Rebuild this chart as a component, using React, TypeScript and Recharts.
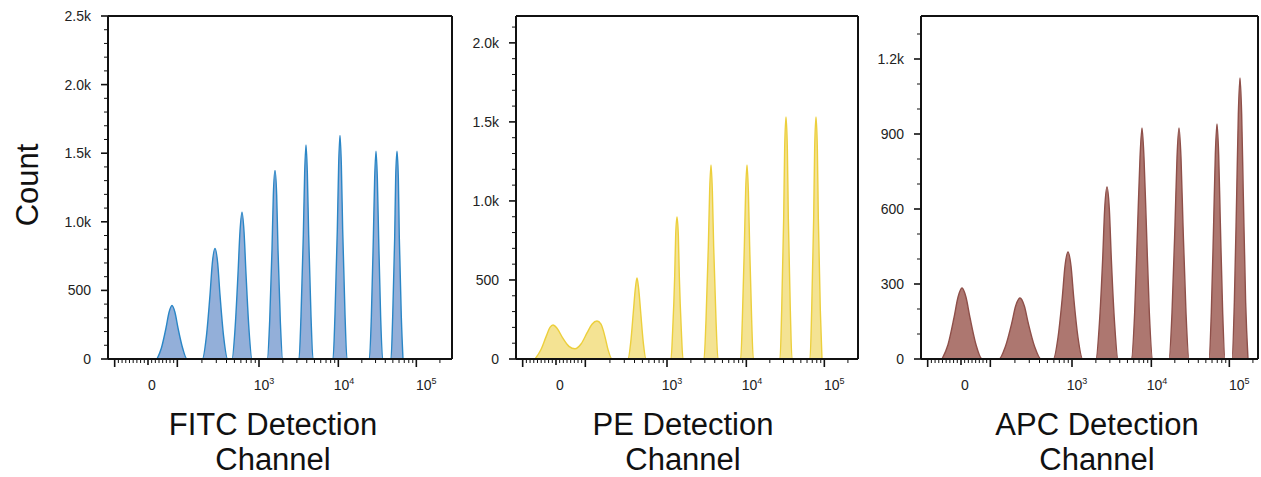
import React from 'react';
import { AreaChart, Area, XAxis, YAxis, ReferenceLine } from 'recharts';

const FONT = '"Liberation Sans", Arial, Helvetica, sans-serif';

// x axis is in display channels (biexponential), 3 channels per pixel
const xDecadeTicks = [20, 120, 208, 453, 691, 925]; // -10², 0, 10², 10³, 10⁴, 10⁵
const xLabelPos = [132, 468, 708, 955];
const xLabelBase = ['0', '10', '10', '10'];
const xLabelExp = ['', '3', '4', '5'];

// FITC
const fitcChannel = [
  147, 160, 174, 183, 192, 201, 210, 224, 237,
  283, 295, 306, 313, 321, 329, 336, 347, 359,
  372, 381, 390, 396, 402, 408, 414, 423, 432,
  478, 485, 492, 496, 501, 506, 510, 517, 524,
  573, 579, 586, 590, 594, 598, 602, 609, 615,
  675, 681, 688, 692, 696, 700, 704, 711, 717,
  784, 790, 796, 800, 804, 808, 812, 818, 824,
  849, 854, 860, 863, 867, 871, 874, 880, 885,
];
const fitcCount = [
  0, 78, 226, 339, 390, 339, 226, 78, 0,
  0, 161, 467, 700, 805, 700, 467, 161, 0,
  0, 214, 621, 931, 1070, 931, 621, 214, 0,
  0, 275, 798, 1196, 1375, 1196, 798, 275, 0,
  0, 312, 905, 1357, 1560, 1357, 905, 312, 0,
  0, 326, 945, 1418, 1630, 1418, 945, 326, 0,
  0, 303, 879, 1318, 1515, 1318, 879, 303, 0,
  0, 303, 879, 1318, 1515, 1318, 879, 303, 0,
];
const fitcYMajor = [0, 500, 1000, 1500, 2000, 2500];
const fitcYLabels = ['0', '500', '1.0k', '1.5k', '2.0k', '2.5k'];

// PE
const peChannel = [
  57, 75, 90, 102, 111, 123, 141, 159, 177, 195, 213, 228, 243, 255, 267, 276, 288,
  336, 344, 352, 358, 363, 368, 374, 382, 390,
  465, 470, 476, 479, 483, 487, 490, 496, 501,
  564, 570, 577, 581, 585, 589, 593, 600, 606,
  674, 679, 685, 689, 693, 697, 701, 707, 712,
  792, 797, 803, 806, 810, 814, 817, 823, 828,
  882, 887, 893, 896, 900, 904, 907, 913, 918,
];
const peCount = [
  0, 60, 140, 200, 215, 195, 130, 80, 65, 95, 165, 220, 240, 220, 140, 60, 0,
  0, 102, 297, 445, 512, 445, 297, 102, 0,
  0, 180, 521, 782, 899, 782, 521, 180, 0,
  0, 246, 712, 1068, 1228, 1068, 712, 246, 0,
  0, 246, 712, 1068, 1228, 1068, 712, 246, 0,
  0, 306, 889, 1333, 1532, 1333, 889, 306, 0,
  0, 306, 889, 1333, 1532, 1333, 889, 306, 0,
];
const peYMajor = [0, 500, 1000, 1500, 2000];
const peYLabels = ['0', '500', '1.0k', '1.5k', '2.0k'];

// APC
const apcChannel = [
  63, 81, 99, 111, 123, 135, 147, 165, 183,
  234, 253, 272, 284, 297, 310, 322, 341, 360,
  397, 411, 424, 432, 441, 450, 458, 471, 485,
  525, 535, 545, 551, 558, 565, 571, 581, 591,
  631, 641, 650, 657, 663, 669, 676, 685, 695,
  744, 753, 762, 768, 774, 780, 786, 795, 804,
  864, 871, 878, 883, 888, 893, 898, 905, 912,
  933, 940, 947, 952, 957, 962, 967, 974, 981,
];
const apcCount = [
  0, 57, 165, 247, 284, 247, 165, 57, 0,
  0, 49, 142, 212, 244, 212, 142, 49, 0,
  0, 86, 248, 372, 428, 372, 248, 86, 0,
  0, 138, 399, 599, 688, 599, 399, 138, 0,
  0, 185, 536, 804, 924, 804, 536, 185, 0,
  0, 185, 536, 804, 924, 804, 536, 185, 0,
  0, 188, 545, 818, 940, 818, 545, 188, 0,
  0, 225, 652, 978, 1124, 978, 652, 225, 0,
];
const apcYMajor = [0, 300, 600, 900, 1200];
const apcYLabels = ['0', '300', '600', '900', '1.2k'];

const titles = ['FITC Detection', 'PE Detection', 'APC Detection'];

function between(a: number, b: number, n: number) {
  const out: number[] = [];
  for (let i = 1; i <= n; i++) out.push(a + ((b - a) * i) / (n + 1));
  return out;
}
function logDecade(a: number, b: number) {
  return [2, 3, 4, 5, 6, 7, 8, 9].map((m) => a + (b - a) * Math.log10(m));
}
const xMinorTicks = [
  ...between(20, 120, 8),
  ...between(120, 208, 7),
  ...logDecade(208, 453),
  ...logDecade(453, 691),
  ...logDecade(691, 925),
  ...logDecade(925, 1160),
];

function XTick({ x, y, payload }: any) {
  const v = payload.value;
  const li = xLabelPos.indexOf(v);
  if (li >= 0) {
    return (
      <text x={x} y={y + 31} textAnchor="middle" fontSize={14} fill="#222" fontFamily={FONT}>
        {xLabelBase[li]}
        {xLabelExp[li] ? (
          <tspan dy={-6} fontSize={9}>
            {xLabelExp[li]}
          </tspan>
        ) : null}
      </text>
    );
  }
  const major = xDecadeTicks.includes(v);
  const len = v === 120 ? 6 : major ? 8 : 4;
  return <line x1={x} y1={y} x2={x} y2={y + len} stroke="#111" strokeWidth={major ? 1.6 : 1} />;
}

function makeYTick(majors: number[], labels: string[]) {
  return ({ x, y, payload }: any) => {
    const i = majors.indexOf(payload.value);
    return (
      <g>
        <line x1={x - (i >= 0 ? 7 : 4)} y1={y} x2={x} y2={y} stroke="#111" strokeWidth={i >= 0 ? 1.6 : 1} />
        {i >= 0 && (
          <text x={x - 17} y={y + 5} textAnchor="end" fontSize={14} fill="#222" fontFamily={FONT}>
            {labels[i]}
          </text>
        )}
      </g>
    );
  };
}

const panels = [
  { channel: fitcChannel, count: fitcCount, yMax: 2500, yMajor: fitcYMajor, yLabels: fitcYLabels,
    stroke: '#2a86c6', fill: '#93afd9', left: 108, width: 344, titleX: 273 },
  { channel: peChannel, count: peCount, yMax: 2170, yMajor: peYMajor, yLabels: peYLabels,
    stroke: '#eccf3c', fill: '#f4e393', left: 516, width: 342, titleX: 683 },
  { channel: apcChannel, count: apcCount, yMax: 1372, yMajor: apcYMajor, yLabels: apcYLabels,
    stroke: '#8e4f49', fill: '#ad7770', left: 921, width: 337, titleX: 1097 },
];

function Panel({ p }: { p: (typeof panels)[number] }) {
  const xMax = p.width * 3;
  const data = p.channel.map((c, i) => ({ x: c, count: p.count[i] }));
  const xTicks = [...xDecadeTicks, ...xMinorTicks, ...xLabelPos].filter((t) => t <= xMax).sort((a, b) => a - b);
  const yTicks: number[] = [];
  for (let v = 0; v <= p.yMax; v += 100) yTicks.push(v);
  return (
    <div style={{ position: 'absolute', left: p.left - 60, top: 0 }}>
      <AreaChart width={60 + p.width + 4} height={399} data={data} margin={{ top: 16, right: 4, bottom: 0, left: 0 }}>
        <XAxis
          dataKey="x"
          type="number"
          domain={[0, xMax]}
          ticks={xTicks}
          interval={0}
          tick={(props: any) => <XTick {...props} />}
          tickLine={false}
          tickSize={0}
          tickMargin={0}
          height={40}
          axisLine={{ stroke: '#111', strokeWidth: 2 }}
        />
        <YAxis
          type="number"
          domain={[0, p.yMax]}
          ticks={yTicks}
          interval={0}
          tick={makeYTick(p.yMajor, p.yLabels)}
          tickLine={false}
          tickSize={0}
          tickMargin={0}
          width={60}
          axisLine={{ stroke: '#111', strokeWidth: 2 }}
        />
        <Area
          type="monotone"
          dataKey="count"
          stroke={p.stroke}
          strokeWidth={1.4}
          fill={p.fill}
          fillOpacity={1}
          dot={false}
          activeDot={false}
          isAnimationActive={false}
        />
        <ReferenceLine y={0} stroke="#111" strokeWidth={2} />
        <ReferenceLine y={p.yMax} stroke="#111" strokeWidth={2} />
        <ReferenceLine x={xMax} stroke="#111" strokeWidth={2} />
      </AreaChart>
    </div>
  );
}

export default function App() {
  return (
    <div style={{ position: 'absolute', left: 0, top: 0, width: 1261, height: 477, overflow: 'hidden', background: '#fff' }}>
      {panels.map((p, i) => (
        <Panel key={i} p={p} />
      ))}
      <svg width={1261} height={477} style={{ position: 'absolute', left: 0, top: 0, pointerEvents: 'none' }}>
        <text x={38} y={185} transform="rotate(-90 38 185)" textAnchor="middle" fontSize={31} fill="#111" fontFamily={FONT}>
          Count
        </text>
        {panels.map((p, i) => (
          <g key={i}>
            <text x={p.titleX} y={435} textAnchor="middle" fontSize={31} fill="#111" fontFamily={FONT}>
              {titles[i]}
            </text>
            <text x={p.titleX} y={470} textAnchor="middle" fontSize={31} fill="#111" fontFamily={FONT}>
              Channel
            </text>
          </g>
        ))}
      </svg>
    </div>
  );
}
